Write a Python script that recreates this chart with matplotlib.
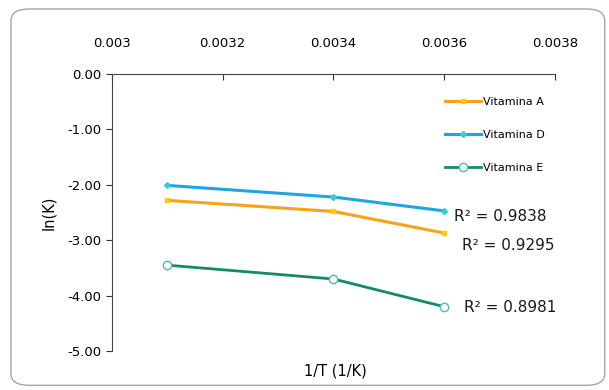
import numpy as np
import matplotlib
matplotlib.use("Agg")
import matplotlib.pyplot as plt
from matplotlib.patches import FancyBboxPatch

# Data
inv_T = [0.0031, 0.0034, 0.0036]
vit_a = [-2.28, -2.48, -2.87]
vit_d = [-2.01, -2.22, -2.47]
vit_e = [-3.45, -3.70, -4.20]
r2_labels = ["R² = 0.9838", "R² = 0.9295", "R² = 0.8981"]
r2_pos = [(0.003618, -2.57), (0.003632, -3.09), (0.003636, -4.22)]

fig = plt.figure(figsize=(6.09, 3.90), dpi=100)
fig.patches.append(FancyBboxPatch((0.018, 0.012), 0.975, 0.965,
                                  boxstyle="round,pad=0,rounding_size=0.03",
                                  transform=fig.transFigure, fc="white",
                                  ec="#a6a6a6", lw=1.0, zorder=-1))
ax = fig.add_axes([0.184, 0.10, 0.727, 0.71])
ax.patch.set_alpha(0)

ax.plot(inv_T, vit_a, color="#f7a21b", lw=2.2, marker="s", ms=3,
        mfc="#ffcc00", mec="#ffcc00", label="Vitamina A")
ax.plot(inv_T, vit_d, color="#1ea6e0", lw=2.2, marker="D", ms=3,
        mfc="#33ccdd", mec="#33ccdd", label="Vitamina D")
ax.plot(inv_T, vit_e, color="#138a68", lw=2.0, marker="o", ms=6,
        mfc="white", mec="#55b9a8", label="Vitamina E")

for txt, (x, y) in zip(r2_labels, r2_pos):
    ax.text(x, y, txt, fontsize=11, ha="left", va="center", color="#1a1a1a")

ax.set_xlim(0.003, 0.0038)
ax.set_ylim(-5, 0)
ax.set_xticks([0.003, 0.0032, 0.0034, 0.0036, 0.0038])
ax.set_xticklabels(["0.003", "0.0032", "0.0034", "0.0036", "0.0038"])
ax.set_yticks(np.arange(-5, 0.5, 1))
ax.set_yticklabels([f"{v:.2f}" for v in np.arange(-5, 0.5, 1)])
ax.xaxis.tick_top()
ax.tick_params(axis="x", direction="in", length=4, labelsize=9.5, pad=17, colors="#333333")
ax.tick_params(axis="y", direction="out", length=4, labelsize=9.5, colors="#333333")
for lbl in ax.get_xticklabels() + ax.get_yticklabels():
    lbl.set_color("black")

ax.spines["right"].set_visible(False)
ax.spines["bottom"].set_visible(False)
ax.spines["left"].set_color("#444444")
ax.spines["top"].set_color("#444444")

ax.set_ylabel("ln(K)", fontsize=10.5, labelpad=8)
fig.text(0.55, 0.05, "1/T (1/K)", fontsize=10.5, ha="center", va="center")

ax.legend(loc="upper right", bbox_to_anchor=(1.0, 0.955), frameon=False,
          fontsize=8, handlelength=3.2, labelspacing=2.1, handletextpad=0.2)

fig.savefig("out.png", dpi=100)
